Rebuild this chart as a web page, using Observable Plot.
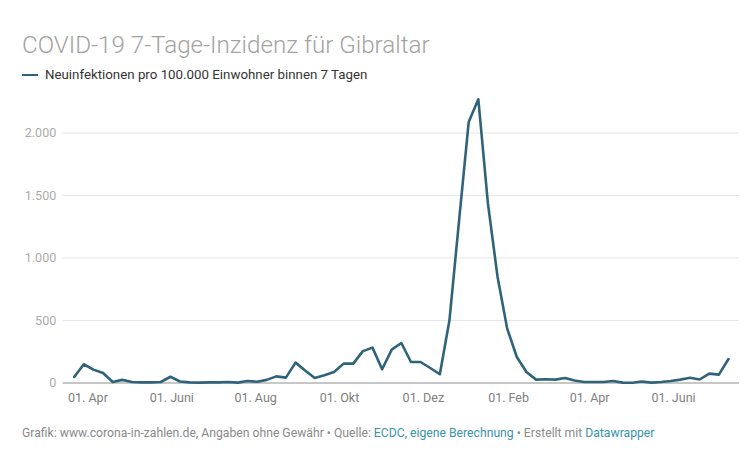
<!DOCTYPE html>
<html>
<head>
<meta charset="utf-8">
<script src="https://cdn.jsdelivr.net/npm/d3@7"></script>
<script src="https://cdn.jsdelivr.net/npm/@observablehq/plot@0.6"></script>
<style>
  html, body { margin: 0; padding: 0; background: #fff; }
  body { width: 746px; height: 464px; position: relative; overflow: hidden; font-family: Roboto, "Noto Sans", sans-serif; }
  #title { position: absolute; left: 22px; top: 31px; font-size: 24.2px; line-height: 28px; font-weight: 300; color: #a3a3a3; white-space: nowrap; }
  #legend { position: absolute; left: 22px; top: 67px; font-size: 13.3px; line-height: 16px; color: #333; white-space: nowrap; display: flex; align-items: center; }
  #legend .sw { display: inline-block; width: 16px; height: 2.5px; background: #2f637a; margin-right: 7px; }
  #chart { position: absolute; left: 0; top: 90px; }
  #footer { position: absolute; left: 22px; top: 426px; font-size: 12.2px; line-height: 14px; color: #8a8a8a; white-space: nowrap; }
  #footer .lnk { color: #3a93ad; }
</style>
</head>
<body>
<div id="title">COVID-19 7-Tage-Inzidenz für Gibraltar</div>
<div id="legend"><span class="sw"></span><span>Neuinfektionen pro 100.000 Einwohner binnen 7 Tagen</span></div>
<div id="chart"></div>
<div id="footer">Grafik: www.corona-in-zahlen.de, Angaben ohne Gewähr • Quelle: <span class="lnk">ECDC, eigene Berechnung</span> • Erstellt mit <span class="lnk">Datawrapper</span></div>
<script>
const weeks = [
  "2020-03-22","2020-03-29","2020-04-05","2020-04-12","2020-04-19","2020-04-26",
  "2020-05-03","2020-05-10","2020-05-17","2020-05-24","2020-05-31","2020-06-07",
  "2020-06-14","2020-06-21","2020-06-28","2020-07-05","2020-07-12","2020-07-19",
  "2020-07-26","2020-08-02","2020-08-09","2020-08-16","2020-08-23","2020-08-30",
  "2020-09-06","2020-09-13","2020-09-20","2020-09-27","2020-10-04","2020-10-11",
  "2020-10-18","2020-10-25","2020-11-01","2020-11-08","2020-11-15","2020-11-22",
  "2020-11-29","2020-12-06","2020-12-13","2020-12-20","2020-12-27","2021-01-03",
  "2021-01-10","2021-01-17","2021-01-24","2021-01-31","2021-02-07","2021-02-14",
  "2021-02-21","2021-02-28","2021-03-07","2021-03-14","2021-03-21","2021-03-28",
  "2021-04-04","2021-04-11","2021-04-18","2021-04-25","2021-05-02","2021-05-09",
  "2021-05-16","2021-05-23","2021-05-30","2021-06-06","2021-06-13","2021-06-20",
  "2021-06-27","2021-07-04","2021-07-11"
];
const incidence = [
  48, 150, 107, 80, 8, 25,
  8, 5, 5, 8, 50, 12,
  5, 3, 5, 5, 8, 3,
  16, 10, 25, 53, 43, 163,
  100, 40, 62, 88, 155, 155,
  255, 283, 110, 267, 320, 168,
  168, 120, 70, 502, 1300, 2088,
  2270, 1435, 848, 435, 208, 88,
  27, 30, 27, 40, 20, 8,
  8, 8, 16, 3, 2, 12,
  3, 8, 16, 27, 42, 28,
  75, 67, 192
];
const xTickDates = ["2020-04-01","2020-06-01","2020-08-01","2020-10-01","2020-12-01","2021-02-01","2021-04-01","2021-06-01"];
const xTickLabels = ["01. Apr","01. Juni","01. Aug","01. Okt","01. Dez","01. Feb","01. Apr","01. Juni"];
const yTicks = [0, 500, 1000, 1500, 2000];
const yTickLabels = ["0", "500", "1.000", "1.500", "2.000"];
const xDomain = ["2020-03-14", "2021-07-19"];
const yDomain = [0, 2300];

const data = weeks.map((w, i) => ({date: new Date(w + "T00:00:00Z"), value: incidence[i]}));
const xTicks = xTickDates.map(d => new Date(d + "T00:00:00Z"));
const xLabelMap = new Map(xTicks.map((d, i) => [d.getTime(), xTickLabels[i]]));
const yLabelMap = new Map(yTicks.map((d, i) => [d, yTickLabels[i]]));

const chart = Plot.plot({
  width: 746,
  height: 318,
  marginLeft: 62.7,
  marginRight: 7,
  marginTop: 5,
  marginBottom: 25.5,
  style: {fontFamily: "Roboto, 'Noto Sans', sans-serif", fontSize: "12.5px", background: "transparent"},
  x: {type: "utc", domain: xDomain.map(d => new Date(d + "T00:00:00Z"))},
  y: {domain: yDomain},
  marks: [
    Plot.ruleY(yTicks.filter(d => d > 0), {stroke: "#e6e6e6", strokeWidth: 1}),
    Plot.ruleY([0], {stroke: "#b5b5b5", strokeWidth: 1.6}),
    Plot.line(data, {x: "date", y: "value", stroke: "#2f637a", strokeWidth: 2.6, strokeLinejoin: "round", strokeLinecap: "round"}),
    Plot.axisY({ticks: yTicks, tickFormat: d => yLabelMap.get(d), tickSize: 0, tickPadding: 7, fill: "#ababab", label: null}),
    Plot.axisX({ticks: xTicks, tickFormat: d => xLabelMap.get(d.getTime()), tickSize: 0, tickPadding: 10, fill: "#808080", label: null})
  ]
});
document.getElementById("chart").appendChild(chart);
</script>
</body>
</html>
